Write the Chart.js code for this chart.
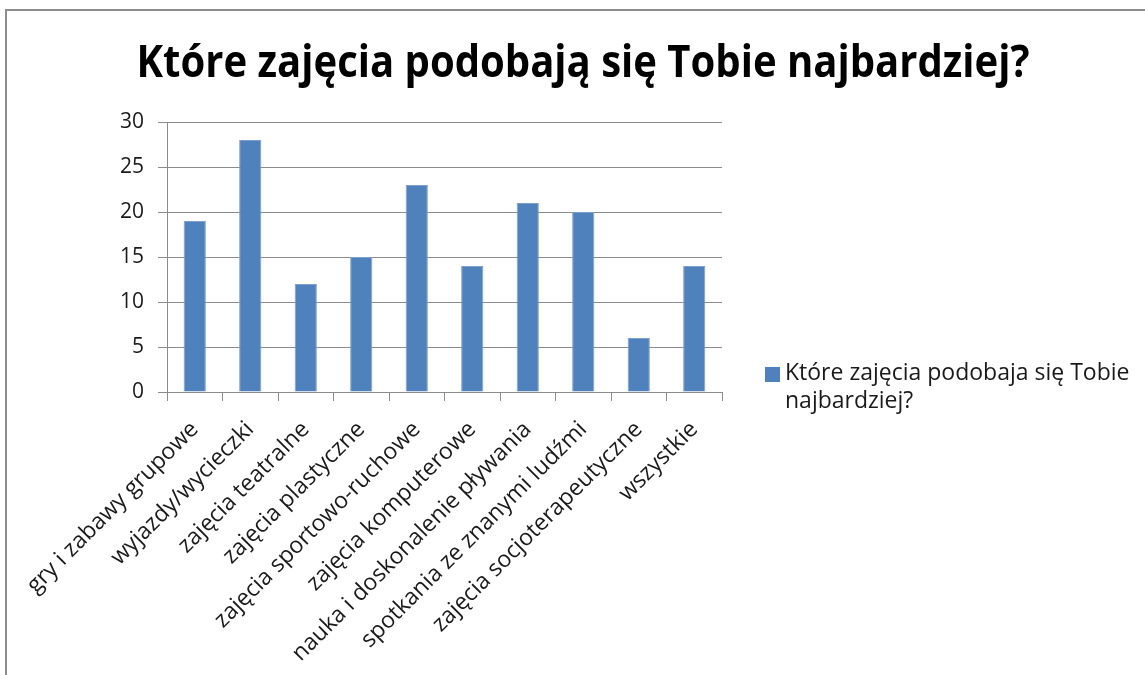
<!DOCTYPE html>
<html>
<head>
<meta charset="utf-8">
<script src="https://cdn.jsdelivr.net/npm/chart.js@4.4.0/dist/chart.umd.min.js"></script>
<style>
  html, body { margin: 0; padding: 0; background: #fff; }
  #frame { position: absolute; left: 5px; top: 9px; width: 1160px; height: 700px;
           border-left: 2px solid #8c8c8c; border-top: 2px solid #8c8c8c; }
  #box { position: absolute; left: 0; top: 0; width: 1145px; height: 675px; }
</style>
</head>
<body>
<div id="frame"></div>
<div id="box"><canvas id="chart" width="1145" height="675"></canvas></div>
<script>
const chartTitle = 'Które zajęcia podobają się Tobie najbardziej?';
const seriesName = 'Które zajęcia podobaja się Tobie najbardziej?';
const categories = [
  'gry i zabawy grupowe',
  'wyjazdy/wycieczki',
  'zajęcia teatralne',
  'zajęcia plastyczne',
  'zajęcia sportowo-ruchowe',
  'zajęcia komputerowe',
  'nauka i doskonalenie pływania',
  'spotkania ze znanymi ludźmi',
  'zajęcia socjoterapeutyczne',
  'wszystkie'
];
const values = [19, 28, 12, 15, 23, 14, 21, 20, 6, 14];
const yMin = 0, yMax = 30, yStep = 5;

const FONT = '"Open Sans", sans-serif';
const gridCol = '#8c8c8c';
const barCol = '#4f81bd';

// title + legend drawn by hand (excel style, legend text wraps)
const extras = {
  id: 'extras',
  afterDraw(chart) {
    const ctx = chart.ctx;
    ctx.save();
    ctx.fillStyle = '#000';
    ctx.font = 'bold 44px ' + FONT;
    ctx.textAlign = 'center';
    ctx.textBaseline = 'alphabetic';
    // calibri is narrow, squeeze the title to the same width
    const tw = ctx.measureText(chartTitle).width;
    const sx = Math.min(1, 893 / tw);
    ctx.translate(583, 77);
    ctx.scale(sx, 1);
    ctx.fillText(chartTitle, 0, 0);
    ctx.restore();

    // legend
    ctx.save();
    ctx.fillStyle = barCol;
    ctx.fillRect(765, 367, 15, 15);
    ctx.fillStyle = '#1a1a1a';
    ctx.font = '23px ' + FONT;
    ctx.textAlign = 'left';
    ctx.textBaseline = 'alphabetic';
    const words = seriesName.split(' ');
    let line = '', y = 380;
    const lines = [];
    words.forEach(w => {
      const t = line ? line + ' ' + w : w;
      if (ctx.measureText(t).width > 365 && line) { lines.push(line); line = w; }
      else line = t;
    });
    lines.push(line);
    lines.forEach(l => { ctx.fillText(l, 785, y); y += 28; });
    ctx.restore();
  }
};

new Chart(document.getElementById('chart'), {
  type: 'bar',
  data: {
    labels: categories,
    datasets: [{
      label: seriesName,
      data: values,
      backgroundColor: barCol,
      borderColor: '#7c9fcc',
      borderWidth: 1,
      barPercentage: 0.4,
      categoryPercentage: 1.0
    }]
  },
  options: {
    responsive: false,
    animation: false,
    layout: { padding: { left: 107, top: 122, right: 423, bottom: 0 } },
    plugins: { legend: { display: false }, title: { display: false }, tooltip: { enabled: false } },
    scales: {
      x: {
        afterFit: (s) => { s.height = 283; },
        grid: { offset: true, drawOnChartArea: false, drawTicks: true, tickLength: 9, color: gridCol },
        border: { display: true, color: gridCol, width: 1 },
        ticks: { autoSkip: false, minRotation: 45, maxRotation: 45, padding: 15,
                 color: '#1a1a1a', font: { family: FONT, size: 23 } }
      },
      y: {
        min: yMin, max: yMax,
        afterFit: (s) => { s.width = 60; },
        grid: { color: gridCol, tickLength: 9, drawTicks: true },
        border: { display: true, color: gridCol, width: 1 },
        ticks: { stepSize: yStep, padding: 14, color: '#1a1a1a', font: { family: FONT, size: 21 } }
      }
    }
  },
  plugins: [extras]
});
</script>
</body>
</html>
